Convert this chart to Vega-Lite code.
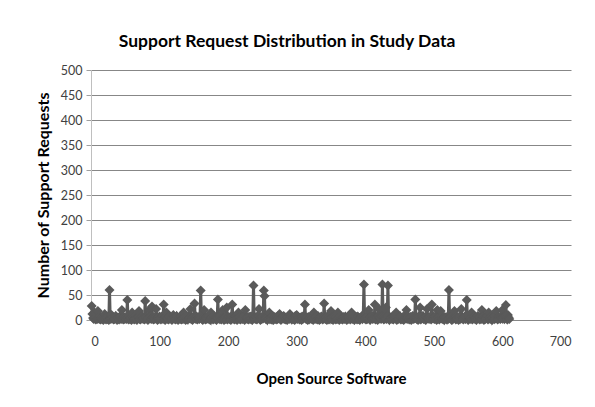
{
"$schema":"https://vega.github.io/schema/vega-lite/v6.json",
"width":480,"height":250,"autosize":"none",
"padding":{"left":91,"top":70,"right":24,"bottom":87},
"background":"white",
"title":{"text":"Support Request Distribution in Study Data","font":"Lato","fontSize":17.5,"fontWeight":"bold","color":"#000000","anchor":"middle","dx":-44,"offset":14},
"data":{"values":[
{"x":1,"y":28},{"x":2,"y":12},{"x":3,"y":4},{"x":4,"y":2},{"x":5,"y":15},{"x":6,"y":3},{"x":7,"y":1},{"x":8,"y":6},{"x":9,"y":2},{"x":10,"y":18},
{"x":11,"y":4},{"x":12,"y":2},{"x":13,"y":8},{"x":14,"y":1},{"x":15,"y":3},{"x":16,"y":5},{"x":17,"y":2},{"x":18,"y":0},{"x":19,"y":6},{"x":20,"y":12},
{"x":21,"y":3},{"x":22,"y":1},{"x":23,"y":5},{"x":24,"y":2},{"x":25,"y":7},{"x":26,"y":0},{"x":27,"y":60},{"x":28,"y":4},{"x":29,"y":2},{"x":30,"y":10},
{"x":31,"y":3},{"x":32,"y":6},{"x":33,"y":1},{"x":34,"y":2},{"x":35,"y":4},{"x":36,"y":8},{"x":37,"y":2},{"x":38,"y":0},{"x":39,"y":5},{"x":40,"y":3},
{"x":41,"y":1},{"x":42,"y":7},{"x":43,"y":3},{"x":44,"y":2},{"x":45,"y":20},{"x":46,"y":4},{"x":47,"y":1},{"x":48,"y":6},{"x":49,"y":2},{"x":50,"y":3},
{"x":51,"y":5},{"x":52,"y":2},{"x":53,"y":40},{"x":54,"y":3},{"x":55,"y":1},{"x":56,"y":8},{"x":57,"y":2},{"x":58,"y":4},{"x":59,"y":0},{"x":60,"y":15},
{"x":61,"y":3},{"x":62,"y":5},{"x":63,"y":1},{"x":64,"y":2},{"x":65,"y":9},{"x":66,"y":3},{"x":67,"y":0},{"x":68,"y":4},{"x":69,"y":6},{"x":70,"y":18},
{"x":71,"y":2},{"x":72,"y":1},{"x":73,"y":5},{"x":74,"y":3},{"x":75,"y":7},{"x":76,"y":2},{"x":77,"y":4},{"x":78,"y":1},{"x":79,"y":38},{"x":80,"y":3},
{"x":81,"y":6},{"x":82,"y":2},{"x":83,"y":0},{"x":84,"y":4},{"x":85,"y":20},{"x":86,"y":3},{"x":87,"y":8},{"x":88,"y":2},{"x":89,"y":27},{"x":90,"y":5},
{"x":91,"y":1},{"x":92,"y":4},{"x":93,"y":2},{"x":94,"y":6},{"x":95,"y":22},{"x":96,"y":3},{"x":97,"y":0},{"x":98,"y":5},{"x":99,"y":2},{"x":100,"y":7},
{"x":101,"y":3},{"x":102,"y":1},{"x":103,"y":4},{"x":104,"y":8},{"x":105,"y":2},{"x":106,"y":31},{"x":107,"y":3},{"x":108,"y":0},{"x":109,"y":6},{"x":110,"y":15},
{"x":111,"y":2},{"x":112,"y":4},{"x":113,"y":1},{"x":114,"y":7},{"x":115,"y":3},{"x":116,"y":5},{"x":117,"y":2},{"x":118,"y":0},{"x":119,"y":4},{"x":120,"y":10},
{"x":121,"y":3},{"x":122,"y":6},{"x":123,"y":1},{"x":124,"y":2},{"x":125,"y":8},{"x":126,"y":4},{"x":127,"y":0},{"x":128,"y":3},{"x":129,"y":5},{"x":130,"y":2},
{"x":131,"y":7},{"x":132,"y":1},{"x":133,"y":4},{"x":134,"y":2},{"x":135,"y":15},{"x":136,"y":3},{"x":137,"y":6},{"x":138,"y":0},{"x":139,"y":2},{"x":140,"y":5},
{"x":141,"y":1},{"x":142,"y":8},{"x":143,"y":3},{"x":144,"y":4},{"x":145,"y":22},{"x":146,"y":2},{"x":147,"y":5},{"x":148,"y":0},{"x":149,"y":6},{"x":150,"y":3},
{"x":151,"y":33},{"x":152,"y":4},{"x":153,"y":2},{"x":154,"y":7},{"x":155,"y":1},{"x":156,"y":3},{"x":157,"y":5},{"x":158,"y":2},{"x":159,"y":8},{"x":160,"y":59},
{"x":161,"y":4},{"x":162,"y":2},{"x":163,"y":0},{"x":164,"y":6},{"x":165,"y":20},{"x":166,"y":3},{"x":167,"y":1},{"x":168,"y":5},{"x":169,"y":2},{"x":170,"y":4},
{"x":171,"y":8},{"x":172,"y":2},{"x":173,"y":3},{"x":174,"y":0},{"x":175,"y":15},{"x":176,"y":4},{"x":177,"y":6},{"x":178,"y":1},{"x":179,"y":3},{"x":180,"y":7},
{"x":181,"y":2},{"x":182,"y":5},{"x":183,"y":0},{"x":184,"y":4},{"x":185,"y":41},{"x":186,"y":3},{"x":187,"y":8},{"x":188,"y":2},{"x":189,"y":6},{"x":190,"y":1},
{"x":191,"y":4},{"x":192,"y":20},{"x":193,"y":3},{"x":194,"y":0},{"x":195,"y":5},{"x":196,"y":2},{"x":197,"y":7},{"x":198,"y":25},{"x":199,"y":1},{"x":200,"y":3},
{"x":201,"y":6},{"x":202,"y":2},{"x":203,"y":4},{"x":204,"y":0},{"x":205,"y":8},{"x":206,"y":31},{"x":207,"y":3},{"x":208,"y":5},{"x":209,"y":1},{"x":210,"y":2},
{"x":211,"y":7},{"x":212,"y":3},{"x":213,"y":0},{"x":214,"y":4},{"x":215,"y":15},{"x":216,"y":2},{"x":217,"y":6},{"x":218,"y":1},{"x":219,"y":3},{"x":220,"y":5},
{"x":221,"y":2},{"x":222,"y":8},{"x":223,"y":4},{"x":224,"y":0},{"x":225,"y":20},{"x":226,"y":3},{"x":227,"y":5},{"x":228,"y":2},{"x":229,"y":6},{"x":230,"y":1},
{"x":231,"y":4},{"x":232,"y":7},{"x":233,"y":2},{"x":234,"y":3},{"x":235,"y":0},{"x":236,"y":9},{"x":237,"y":69},{"x":238,"y":3},{"x":239,"y":5},{"x":240,"y":2},
{"x":241,"y":6},{"x":242,"y":1},{"x":243,"y":4},{"x":244,"y":8},{"x":245,"y":22},{"x":246,"y":3},{"x":247,"y":0},{"x":248,"y":5},{"x":249,"y":2},{"x":250,"y":7},
{"x":251,"y":3},{"x":252,"y":59},{"x":253,"y":48},{"x":254,"y":6},{"x":255,"y":2},{"x":256,"y":4},{"x":257,"y":0},{"x":258,"y":7},{"x":259,"y":3},{"x":260,"y":15},
{"x":261,"y":2},{"x":262,"y":5},{"x":263,"y":1},{"x":264,"y":4},{"x":265,"y":8},{"x":266,"y":0},{"x":267,"y":3},{"x":268,"y":6},{"x":269,"y":2},{"x":270,"y":4},
{"x":271,"y":1},{"x":272,"y":7},{"x":273,"y":3},{"x":274,"y":5},{"x":275,"y":12},{"x":276,"y":2},{"x":277,"y":0},{"x":278,"y":4},{"x":279,"y":6},{"x":280,"y":3},
{"x":281,"y":8},{"x":282,"y":2},{"x":283,"y":5},{"x":284,"y":1},{"x":285,"y":3},{"x":286,"y":0},{"x":287,"y":6},{"x":288,"y":4},{"x":289,"y":2},{"x":290,"y":12},
{"x":291,"y":3},{"x":292,"y":7},{"x":293,"y":1},{"x":294,"y":5},{"x":295,"y":2},{"x":296,"y":4},{"x":297,"y":0},{"x":298,"y":8},{"x":299,"y":3},{"x":300,"y":10},
{"x":301,"y":2},{"x":302,"y":6},{"x":303,"y":4},{"x":304,"y":1},{"x":305,"y":3},{"x":306,"y":5},{"x":307,"y":0},{"x":308,"y":7},{"x":309,"y":2},{"x":310,"y":4},
{"x":311,"y":8},{"x":312,"y":31},{"x":313,"y":3},{"x":314,"y":2},{"x":315,"y":5},{"x":316,"y":0},{"x":317,"y":6},{"x":318,"y":1},{"x":319,"y":4},{"x":320,"y":3},
{"x":321,"y":7},{"x":322,"y":2},{"x":323,"y":5},{"x":324,"y":0},{"x":325,"y":15},{"x":326,"y":3},{"x":327,"y":6},{"x":328,"y":2},{"x":329,"y":4},{"x":330,"y":1},
{"x":331,"y":8},{"x":332,"y":3},{"x":333,"y":0},{"x":334,"y":5},{"x":335,"y":2},{"x":336,"y":7},{"x":337,"y":4},{"x":338,"y":1},{"x":339,"y":6},{"x":340,"y":33},
{"x":341,"y":3},{"x":342,"y":2},{"x":343,"y":5},{"x":344,"y":0},{"x":345,"y":8},{"x":346,"y":4},{"x":347,"y":1},{"x":348,"y":6},{"x":349,"y":3},{"x":350,"y":18},
{"x":351,"y":2},{"x":352,"y":5},{"x":353,"y":0},{"x":354,"y":7},{"x":355,"y":3},{"x":356,"y":4},{"x":357,"y":1},{"x":358,"y":6},{"x":359,"y":2},{"x":360,"y":15},
{"x":361,"y":4},{"x":362,"y":0},{"x":363,"y":3},{"x":364,"y":8},{"x":365,"y":2},{"x":366,"y":5},{"x":367,"y":1},{"x":368,"y":6},{"x":369,"y":4},{"x":370,"y":2},
{"x":371,"y":7},{"x":372,"y":3},{"x":373,"y":0},{"x":374,"y":5},{"x":375,"y":2},{"x":376,"y":6},{"x":377,"y":4},{"x":378,"y":1},{"x":379,"y":3},{"x":380,"y":15},
{"x":381,"y":2},{"x":382,"y":8},{"x":383,"y":4},{"x":384,"y":0},{"x":385,"y":5},{"x":386,"y":3},{"x":387,"y":6},{"x":388,"y":1},{"x":389,"y":7},{"x":390,"y":2},
{"x":391,"y":4},{"x":392,"y":0},{"x":393,"y":3},{"x":394,"y":5},{"x":395,"y":8},{"x":396,"y":2},{"x":397,"y":6},{"x":398,"y":71},{"x":399,"y":3},{"x":400,"y":4},
{"x":401,"y":1},{"x":402,"y":7},{"x":403,"y":2},{"x":404,"y":5},{"x":405,"y":20},{"x":406,"y":3},{"x":407,"y":0},{"x":408,"y":6},{"x":409,"y":4},{"x":410,"y":8},
{"x":411,"y":2},{"x":412,"y":5},{"x":413,"y":3},{"x":414,"y":31},{"x":415,"y":1},{"x":416,"y":6},{"x":417,"y":4},{"x":418,"y":0},{"x":419,"y":8},{"x":420,"y":22},
{"x":421,"y":3},{"x":422,"y":5},{"x":423,"y":2},{"x":424,"y":7},{"x":425,"y":71},{"x":426,"y":4},{"x":427,"y":1},{"x":428,"y":6},{"x":429,"y":3},{"x":430,"y":25},
{"x":431,"y":2},{"x":432,"y":8},{"x":433,"y":69},{"x":434,"y":4},{"x":435,"y":0},{"x":436,"y":6},{"x":437,"y":3},{"x":438,"y":5},{"x":439,"y":2},{"x":440,"y":7},
{"x":441,"y":1},{"x":442,"y":4},{"x":443,"y":8},{"x":444,"y":3},{"x":445,"y":15},{"x":446,"y":0},{"x":447,"y":6},{"x":448,"y":2},{"x":449,"y":5},{"x":450,"y":3},
{"x":451,"y":7},{"x":452,"y":1},{"x":453,"y":4},{"x":454,"y":2},{"x":455,"y":6},{"x":456,"y":0},{"x":457,"y":8},{"x":458,"y":3},{"x":459,"y":5},{"x":460,"y":20},
{"x":461,"y":2},{"x":462,"y":4},{"x":463,"y":7},{"x":464,"y":1},{"x":465,"y":3},{"x":466,"y":6},{"x":467,"y":0},{"x":468,"y":5},{"x":469,"y":8},{"x":470,"y":2},
{"x":471,"y":4},{"x":472,"y":3},{"x":473,"y":41},{"x":474,"y":6},{"x":475,"y":2},{"x":476,"y":5},{"x":477,"y":0},{"x":478,"y":7},{"x":479,"y":3},{"x":480,"y":25},
{"x":481,"y":1},{"x":482,"y":6},{"x":483,"y":4},{"x":484,"y":8},{"x":485,"y":2},{"x":486,"y":5},{"x":487,"y":3},{"x":488,"y":0},{"x":489,"y":7},{"x":490,"y":22},
{"x":491,"y":3},{"x":492,"y":5},{"x":493,"y":2},{"x":494,"y":6},{"x":495,"y":4},{"x":496,"y":1},{"x":497,"y":31},{"x":498,"y":8},{"x":499,"y":3},{"x":500,"y":5},
{"x":501,"y":2},{"x":502,"y":7},{"x":503,"y":4},{"x":504,"y":0},{"x":505,"y":20},{"x":506,"y":3},{"x":507,"y":6},{"x":508,"y":1},{"x":509,"y":5},{"x":510,"y":18},
{"x":511,"y":3},{"x":512,"y":8},{"x":513,"y":2},{"x":514,"y":4},{"x":515,"y":0},{"x":516,"y":6},{"x":517,"y":3},{"x":518,"y":5},{"x":519,"y":1},{"x":520,"y":7},
{"x":521,"y":2},{"x":522,"y":60},{"x":523,"y":4},{"x":524,"y":6},{"x":525,"y":3},{"x":526,"y":0},{"x":527,"y":8},{"x":528,"y":2},{"x":529,"y":5},{"x":530,"y":18},
{"x":531,"y":4},{"x":532,"y":1},{"x":533,"y":7},{"x":534,"y":3},{"x":535,"y":5},{"x":536,"y":0},{"x":537,"y":6},{"x":538,"y":2},{"x":539,"y":8},{"x":540,"y":22},
{"x":541,"y":3},{"x":542,"y":5},{"x":543,"y":1},{"x":544,"y":4},{"x":545,"y":7},{"x":546,"y":2},{"x":547,"y":6},{"x":548,"y":40},{"x":549,"y":3},{"x":550,"y":0},
{"x":551,"y":5},{"x":552,"y":8},{"x":553,"y":2},{"x":554,"y":4},{"x":555,"y":15},{"x":556,"y":1},{"x":557,"y":6},{"x":558,"y":3},{"x":559,"y":7},{"x":560,"y":2},
{"x":561,"y":4},{"x":562,"y":0},{"x":563,"y":5},{"x":564,"y":8},{"x":565,"y":3},{"x":566,"y":6},{"x":567,"y":1},{"x":568,"y":4},{"x":569,"y":2},{"x":570,"y":20},
{"x":571,"y":3},{"x":572,"y":7},{"x":573,"y":0},{"x":574,"y":5},{"x":575,"y":2},{"x":576,"y":6},{"x":577,"y":4},{"x":578,"y":8},{"x":579,"y":1},{"x":580,"y":15},
{"x":581,"y":3},{"x":582,"y":5},{"x":583,"y":2},{"x":584,"y":7},{"x":585,"y":0},{"x":586,"y":4},{"x":587,"y":6},{"x":588,"y":2},{"x":589,"y":8},{"x":590,"y":3},
{"x":591,"y":18},{"x":592,"y":4},{"x":593,"y":1},{"x":594,"y":6},{"x":595,"y":3},{"x":596,"y":5},{"x":597,"y":2},{"x":598,"y":7},{"x":599,"y":4},{"x":600,"y":20},
{"x":601,"y":3},{"x":602,"y":6},{"x":603,"y":2},{"x":604,"y":8},{"x":605,"y":30},{"x":606,"y":4},{"x":607,"y":1},{"x":608,"y":10},{"x":609,"y":5},{"x":610,"y":2}
]},
"encoding":{
"x":{"field":"x","type":"quantitative","scale":{"domain":[0,700],"nice":false,"zero":true},
"axis":{"values":[0,100,200,300,400,500,600,700],"grid":false,"ticks":false,"domain":false,"labelPadding":15,"labelFont":"Lato","labelFontSize":12.5,"labelColor":"#404040","title":"Open Source Software","titleFont":"Lato","titleFontSize":15,"titleFontWeight":"bold","titleColor":"#000000","titlePadding":24}},
"y":{"field":"y","type":"quantitative","scale":{"domain":[0,500],"nice":false},
"axis":{"values":[0,50,100,150,200,250,300,350,400,450,500],"grid":true,"gridColor":"#878787","gridWidth":1,"domain":true,"domainColor":"#bfbfbf","tickColor":"#a0a0a0","tickSize":5,"labelPadding":4,"labelFont":"Lato","labelFontSize":12.5,"labelColor":"#404040","title":"Number of Support Requests","titleFont":"Lato","titleFontSize":16,"titleFontWeight":"bold","titleColor":"#000000","titlePadding":9}}
},
"layer":[
{"mark":{"type":"line","color":"#5a5a5a","strokeWidth":3}},
{"mark":{"type":"point","shape":"diamond","filled":true,"size":100,"color":"#5a5a5a","opacity":1}}
],
"config":{"view":{"stroke":null}}
}
